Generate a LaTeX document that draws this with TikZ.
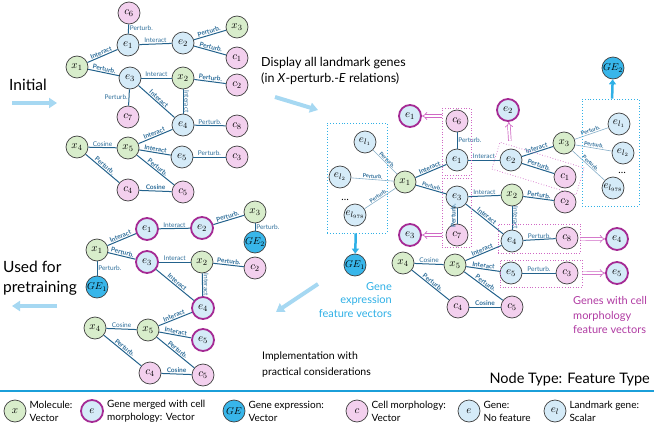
\documentclass[tikz,border=0pt]{standalone}
\usepackage{fontspec}
\setmainfont{Lato}
\usetikzlibrary{arrows.meta,positioning,fit,calc}

\definecolor{edgec}{HTML}{23628C}
\definecolor{labc}{HTML}{2E6E9A}
\definecolor{molc}{HTML}{D8EDCB}
\definecolor{genec}{HTML}{D5EBF8}
\definecolor{cellc}{HTML}{F3D0EE}
\definecolor{gexc}{HTML}{38B6EA}
\definecolor{ringc}{HTML}{A52A94}
\definecolor{pinkc}{HTML}{D068C4}
\definecolor{cyanc}{HTML}{2FB0E6}
\definecolor{bigc}{HTML}{A6D8F2}
\definecolor{lmc}{HTML}{86AEC8}
\definecolor{purpc}{HTML}{B03AA2}
\definecolor{sepc}{HTML}{1B9FD9}

\begin{document}
\begin{tikzpicture}[x=1pt,y=-1pt,
  nd/.style={circle,draw=black!75,line width=0.7pt,minimum size=22pt,inner sep=0pt,font=\fontsize{11}{12}\selectfont},
  mol/.style={nd,fill=molc},
  gene/.style={nd,fill=genec},
  cell/.style={nd,fill=cellc},
  gex/.style={nd,fill=gexc,font=\fontsize{10}{11}\selectfont},
  mgene/.style={nd,fill=genec,draw=ringc,line width=1.8pt},
  lt/.style={text=labc,inner sep=0.8pt,font=\fontsize{6.5}{7}\selectfont},
  lbf/.style={lt,font=\fontsize{6.5}{7}\selectfont\bfseries},
  ls/.style={lbf,sloped,above},
  lsm/.style={ls,font=\fontsize{5.5}{6}\selectfont\bfseries},
  lv/.style={lt,rotate=-90,anchor=south},
  ed/.style={draw=edgec,line width=1pt},
  lme/.style={draw=lmc,line width=0.6pt},
  pbox/.style={draw=pinkc,dotted,line width=0.7pt,inner sep=0pt},
  cbox/.style={draw=cyanc,dotted,line width=0.9pt,inner sep=0pt},
  parr/.style={draw=pinkc,double,double distance=2pt,line width=0.7pt,-{Implies}},
  carr/.style={draw=cyanc,line width=2.5pt,-{Triangle[width=7pt,length=5pt]}},
  bigarr/.style={draw=bigc,line width=4pt,-{Triangle[width=10pt,length=8pt]}},
  txt/.style={inner sep=0pt,align=left},
  leg/.style={txt,right=3pt of #1,font=\fontsize{10}{13}\selectfont}
]
\useasboundingbox (0,0) rectangle (654,423);

% Initial
\node (ic6) at (129,13)  [cell] {$c_6$};
\node (ie1) at (128,45)  [gene] {$e_1$};
\node (ix1) at (77,67)   [mol]  {$x_1$};
\node (ie2) at (183,43)  [gene] {$e_2$};
\node (ix3) at (237,27)  [mol]  {$x_3$};
\node (ic1) at (237,58)  [cell] {$c_1$};
\node (ie3) at (130,78)  [gene] {$e_3$};
\node (ix2) at (183,78)  [mol]  {$x_2$};
\node (ic2) at (237,85)  [cell] {$c_2$};
\node (ic7) at (128,117) [cell] {$c_7$};
\node (ie4) at (183,125) [gene] {$e_4$};
\node (ic8) at (237,126) [cell] {$c_8$};
\node (ix4) at (77,147)  [mol]  {$x_4$};
\node (ix5) at (128,148) [mol]  {$x_5$};
\node (ie5) at (182,157) [gene] {$e_5$};
\node (ic3) at (237,157) [cell] {$c_3$};
\node (ic4) at (128,190) [cell] {$c_4$};
\node (ic5) at (183,192) [cell] {$c_5$};

\draw[ed] (ic6) edge node[lt,right,pos=0.4]{Perturb.} (ie1);
\draw[ed] (ix1) edge node[ls]{Interact} (ie1);
\draw[ed] (ix1) edge node[ls]{Perturb.} (ie3);
\draw[ed] (ie1) edge node[lt,above]{Interact} (ie2);
\draw[ed] (ie2) edge node[ls]{Perturb.} (ix3);
\draw[ed] (ie2) edge node[ls]{Perturb.} (ic1);
\draw[ed] (ie3) edge node[lt,above]{Interact} (ix2);
\draw[ed] (ix2) edge node[ls]{Perturb.} (ic2);
\draw[ed] (ie3) edge node[lt,left]{Perturb.} (ic7);
\draw[ed] (ie3) edge node[ls]{Interact} (ie4);
\draw[ed] (ix2) edge node[lv]{Interact} (ie4);
\draw[ed] (ie4) edge node[lt,above]{Perturb.} (ic8);
\draw[ed] (ix4) edge node[lt,above]{Cosine} (ix5);
\draw[ed] (ix5) edge node[ls]{Interact} (ie4);
\draw[ed] (ix5) edge node[ls]{Interact} (ie5);
\draw[ed] (ie5) edge node[lt,above]{Perturb.} (ic3);
\draw[ed] (ix5) edge node[ls]{Perturb.} (ic5);
\draw[ed] (ix4) edge node[ls]{Perturb.} (ic4);
\draw[ed] (ic4) edge node[ls]{Cosine} (ic5);

% landmark genes
\node (dl1)   at (365,142) [gene] {$e_{l_1}$};
\node (dl2)   at (340,177) [gene] {$e_{l_2}$};
\node (dd1)   at (345,200) {\dots};
\node (dl978) at (355,215) [gene] {$e_{l_{978}}$};
\node (dge1)  at (355,265) [gex]  {$GE_1$};
\node (dx1)   at (405,182) [mol]  {$x_1$};
\node (me1)   at (410,116) [mgene] {$e_1$};
\node (dc6)   at (457,121) [cell] {$c_6$};
\node (de1)   at (457,160) [gene] {$e_1$};
\node (de3)   at (457,197) [gene] {$e_3$};
\node (dc7)   at (457,235) [cell] {$c_7$};
\node (me3)   at (410,235) [mgene] {$e_3$};
\node (dx4)   at (403,263) [mol]  {$x_4$};
\node (dx5)   at (455,265) [mol]  {$x_5$};
\node (me2)   at (508,110) [mgene] {$e_2$};
\node (de2)   at (511,160) [gene] {$e_2$};
\node (dx3)   at (564,143) [mol]  {$x_3$};
\node (dc1)   at (565,177) [cell] {$c_1$};
\node (dx2)   at (512,195) [mol]  {$x_2$};
\node (dc2)   at (565,202) [cell] {$c_2$};
\node (de4)   at (512,241) [gene] {$e_4$};
\node (dc8)   at (567,238) [cell] {$c_8$};
\node (de5)   at (511,273) [gene] {$e_5$};
\node (dc3)   at (567,273) [cell] {$c_3$};
\node (me4)   at (617,239) [mgene] {$e_4$};
\node (me5)   at (617,273) [mgene] {$e_5$};
\node (dc4)   at (458,307) [cell] {$c_4$};
\node (dc5)   at (512,307) [cell] {$c_5$};
\node (dge2)  at (613,68)  [gex]  {$GE_2$};
\node (rl1)   at (619,124) [gene] {$e_{l_1}$};
\node (rl2)   at (623,153) [gene] {$e_{l_2}$};
\node (dd2)   at (622,173) {\dots};
\node (rl978) at (613,188) [gene] {$e_{l_{978}}$};

\draw[lme] (dx1) edge node[lsm]{Perturb.} (dl1);
\draw[lme] (dx1) edge node[lsm]{Perturb.} (dl2);
\draw[lme] (dx1) edge node[lsm]{Perturb.} (dl978);
\draw[lme] (dx3) edge node[lsm]{Perturb.} (rl1);
\draw[lme] (dx3) edge node[lsm]{Perturb.} (rl2);
\draw[lme] (dx3) edge node[lsm]{Perturb.} (rl978);
\draw[ed] (dx1) edge node[ls]{Interact} (de1);
\draw[ed] (dx1) edge node[lsm]{Perturb.} (de3);
\draw[ed] (dc6) edge node[lt,right]{Perturb.} (de1);
\draw[ed] (de1) edge node[lt,above]{Interact} (de2);
\draw[ed] (de3) edge node[lt,above]{Interact} (dx2);
\draw[ed] (dc7) edge node[lbf,rotate=90,anchor=south]{Perturb.} (de3);
\draw[ed] (de3) edge node[ls]{Interact} (de4);
\draw[ed] (dx2) edge node[lv]{Interact} (de4);
\draw[ed] (de2) edge node[ls]{Interact} (dx3);
\draw[ed] (de2) edge node[ls]{Perturb.} (dc1);
\draw[ed] (dx2) edge node[ls]{Perturb.} (dc2);
\draw[ed] (de4) edge node[lt,above]{Perturb.} (dc8);
\draw[ed] (dx4) edge node[lt,above]{Cosine} (dx5);
\draw[ed] (dx5) edge node[ls]{Interact} (de4);
\draw[ed] (dx5) edge node[ls]{Interact} (de5);
\draw[ed] (de5) edge node[lt,above]{Perturb.} (dc3);
\draw[ed] (dx5) edge node[ls]{Perturb.} (dc5);
\draw[ed] (dx4) edge node[ls]{Perturb.} (dc4);
\draw[ed] (dc4) edge node[ls]{Cosine} (dc5);

% boxes
\node (b1)  [pbox,minimum width=29pt,minimum height=67pt] at (456.5,141.5) {};
\node (b2)  [pbox,minimum width=29pt,minimum height=69pt] at (456.5,212.5) {};
\node (b3)  [pbox,minimum width=88pt,minimum height=28pt,rotate=-17] at (538,168.5) {};
\node (b4)  [pbox,minimum width=82pt,minimum height=29pt] at (539,238.5) {};
\node (b5)  [pbox,minimum width=82pt,minimum height=27pt] at (541,273.5) {};
\node (lb1) [cbox,minimum width=60pt,minimum height=110pt] at (357,178) {};
\node (lb2) [cbox,minimum width=57pt,minimum height=107pt] at (610.5,152.5) {};

\draw[parr] (b1.west |- me1) -- (me1);
\draw[parr] (b2.west |- me3) -- (me3);
\draw[parr,shorten <=8pt] (de2) -- (me2);
\draw[parr] (b4) -- (me4);
\draw[parr] (b5) -- (me5);
\draw[carr] (lb1) -- (dge1);
\draw[carr] (lb2) -- (dge2);

% pretraining
\node (px1)  at (97,250)  [mol]   {$x_1$};
\node (pge1) at (97,287)  [gex]   {$GE_1$};
\node (pe1)  at (147,229) [mgene] {$e_1$};
\node (pe2)  at (202,228) [mgene] {$e_2$};
\node (px3)  at (255,212) [mol]   {$x_3$};
\node (pge2) at (255,242) [gex]   {$GE_2$};
\node (pe3)  at (147,262) [mgene] {$e_3$};
\node (px2)  at (202,262) [mol]   {$x_2$};
\node (pc2)  at (255,268) [cell]  {$c_2$};
\node (pe4)  at (203,308) [mgene] {$e_4$};
\node (px4)  at (95,328)  [mol]   {$x_4$};
\node (px5)  at (148,330) [mol]   {$x_5$};
\node (pe5)  at (203,340) [mgene] {$e_5$};
\node (pc4)  at (150,373) [cell]  {$c_4$};
\node (pc5)  at (203,375) [cell]  {$c_5$};

\draw[ed] (px1) edge node[ls]{Interact} (pe1);
\draw[ed] (px1) edge node[ls]{Perturb.} (pe3);
\draw[ed] (px1) edge node[lt,right]{Perturb.} (pge1);
\draw[ed] (pe1) edge node[lt,above]{Interact} (pe2);
\draw[ed] (pe2) edge node[ls]{Perturb.} (px3);
\draw[ed] (px3) edge node[lt,right]{Perturb.} (pge2);
\draw[ed] (pe3) edge node[lt,above]{Interact} (px2);
\draw[ed] (px2) edge node[ls]{Perturb.} (pc2);
\draw[ed] (pe3) edge node[ls]{Interact} (pe4);
\draw[ed] (px2) edge node[lv]{Interact} (pe4);
\draw[ed] (px4) edge node[lt,above]{Cosine} (px5);
\draw[ed] (px5) edge node[ls]{Interact} (pe4);
\draw[ed] (px5) edge node[ls]{Interact} (pe5);
\draw[ed] (px5) edge node[ls]{Perturb.} (pc5);
\draw[ed] (px4) edge node[ls]{Perturb.} (pc4);
\draw[ed] (pc4) edge node[ls]{Cosine} (pc5);

% texts and big arrows
\node (tini) at (9,85) [txt,anchor=west,font=\fontsize{15.5}{17}\selectfont] {Initial};
\node (tdis) at (261,71) [txt,anchor=west,font=\fontsize{12.5}{16}\selectfont]
  {Display all landmark genes\\(in \textit{X}-perturb.-\textit{E} relations)};
\node (tgex) at (392,300) [txt,align=right,anchor=east,text=cyanc,font=\fontsize{11}{13.5}\selectfont]
  {Gene\\expression\\feature vectors};
\node (tmor) at (573,315) [txt,anchor=west,text=purpc,font=\fontsize{11}{14.5}\selectfont]
  {Genes with cell\\morphology\\feature vectors};
\node (timp) at (262,365) [txt,anchor=west,font=\fontsize{10.5}{16}\selectfont]
  {Implementation with\\practical considerations};
\node (tuse) at (3,278) [txt,anchor=west,font=\fontsize{15.5}{20}\selectfont] {Used for\\pretraining};
\node (tnt) at (650,379) [txt,anchor=east,font=\fontsize{14.5}{16}\selectfont] {Node Type: Feature Type};

\coordinate (a1) at (12,103);  \coordinate (a2) at (57,103);
\coordinate (a3) at (275,97);  \coordinate (a4) at (318,110);
\coordinate (a5) at (318,284); \coordinate (a6) at (276,312);
\coordinate (a7) at (57,306);  \coordinate (a8) at (12,306);
\draw[bigarr] (a1) -- (a2);
\draw[bigarr] (a3) -- (a4);
\draw[bigarr] (a5) -- (a6);
\draw[bigarr] (a7) -- (a8);

% legend
\coordinate (s1) at (0,391); \coordinate (s2) at (654,391);
\draw[sepc,line width=2.5pt] (s1) -- (s2);
\node (lg1) at (15,411)  [mol]   {$x$};
\node (lg2) at (92,411)  [mgene] {$e$};
\node (lg3) at (234,411) [gex]   {$GE$};
\node (lg4) at (357,411) [cell]  {$c$};
\node (lg5) at (469,411) [gene]  {$e$};
\node (lg6) at (555,411) [gene]  {$e_l$};
\node (lt1) [leg=lg1] {Molecule:\\Vector};
\node (lt2) [leg=lg2] {Gene merged with cell\\morphology: Vector};
\node (lt3) [leg=lg3] {Gene expression:\\Vector};
\node (lt4) [leg=lg4] {Cell morphology:\\Vector};
\node (lt5) [leg=lg5] {Gene:\\No feature};
\node (lt6) [leg=lg6] {Landmark gene:\\Scalar};
\end{tikzpicture}
\end{document}
